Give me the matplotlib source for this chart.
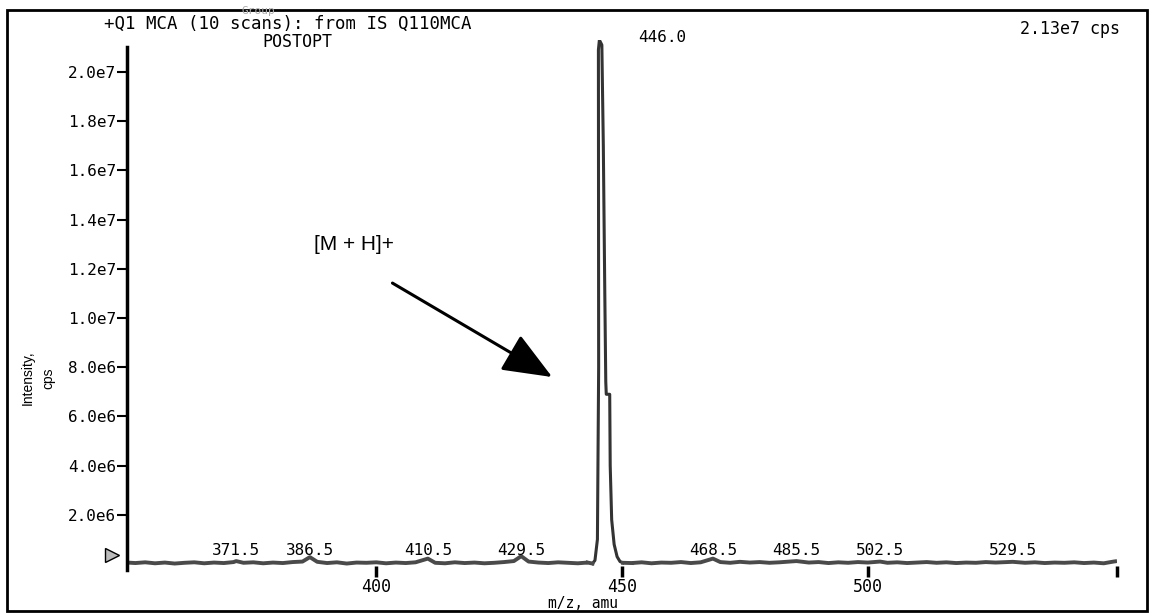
import matplotlib
matplotlib.use("Agg")
import matplotlib.pyplot as plt
from matplotlib.patches import Rectangle

# the instrument printout uses wide, evenly spaced glyphs -> monospace sans
plt.rcParams['font.family'] = ['DejaVu Sans Mono', 'DejaVu Sans']

# spectrum trace, m/z (amu) and intensity (1e6 cps)
mz_left = [349.3, 351, 353, 355, 357, 359, 361, 363, 365, 367, 369, 371, 371.5, 373, 375,
           377, 379, 381, 383, 385, 386.5, 388, 390, 392, 394, 396, 398, 400, 402,
           404, 406, 408, 410.5, 412, 414, 416, 418, 420, 422, 424, 426, 428,
           429.5, 431, 433, 435, 437, 439, 441, 443]
int_left = [0.06, 0.04, 0.07, 0.03, 0.06, 0.02, 0.05, 0.07, 0.03, 0.06, 0.04, 0.08, 0.12, 0.05, 0.07,
            0.03, 0.06, 0.04, 0.08, 0.10, 0.28, 0.09, 0.04, 0.07, 0.02, 0.06, 0.05, 0.07, 0.03,
            0.06, 0.04, 0.07, 0.22, 0.05, 0.03, 0.07, 0.04, 0.06, 0.03, 0.05, 0.08, 0.12,
            0.32, 0.10, 0.06, 0.04, 0.07, 0.05, 0.03, 0.06]
mz_peak = [444.0, 444.5, 445.0, 445.25, 445.2, 445.4, 445.9, 446.2, 446.5, 446.7,
           446.8, 447.5, 447.6, 447.9, 448.4, 449.0, 449.6, 450.2]
int_peak = [0.02, 0.15, 1.0, 8.0, 20.9, 21.3, 21.1, 17.0, 11.0, 7.4,
            6.9, 6.9, 4.0, 1.8, 0.8, 0.3, 0.1, 0.05]
mz_right = [452, 454, 456, 458, 460, 462, 464, 466, 468.5, 470, 472, 474, 476, 478, 480,
            482, 485.5, 488, 490, 492, 494, 496, 498, 500, 502.5, 504, 506, 508, 510,
            512, 514, 516, 518, 520, 522, 524, 526, 529.5, 532, 534, 536, 538, 540,
            542, 544, 546, 548, 550, 550.7]
int_right = [0.04, 0.07, 0.03, 0.06, 0.05, 0.08, 0.04, 0.07, 0.22, 0.08, 0.05, 0.09, 0.06, 0.08, 0.05,
             0.07, 0.12, 0.06, 0.08, 0.04, 0.07, 0.05, 0.08, 0.06, 0.10, 0.05, 0.07, 0.04, 0.06,
             0.08, 0.05, 0.07, 0.04, 0.06, 0.05, 0.08, 0.06, 0.09, 0.05, 0.07, 0.04, 0.06, 0.05,
             0.07, 0.04, 0.06, 0.03, 0.10, 0.12]

peak_labels = [371.5, 386.5, 410.5, 429.5, 468.5, 485.5, 502.5, 529.5]
base_peak = 446.0
max_cps = 2.13e7
y_ticks = [2e6, 4e6, 6e6, 8e6, 1e7, 1.2e7, 1.4e7, 1.6e7, 1.8e7, 2e7]
y_ticklabels = ["2.0e6", "4.0e6", "6.0e6", "8.0e6", "1.0e7",
                "1.2e7", "1.4e7", "1.6e7", "1.8e7", "2.0e7"]
x_ticks = [400, 450, 500]

fig = plt.figure(figsize=(11.5, 6.14), dpi=100)
W, H = 1150, 614
ax = fig.add_axes([127 / W, (H - 566) / H, 990 / W, 526 / H])

sc = 1e6
base_col = '#4a4a4a'
ax.plot(mz_left, [v * sc for v in int_left], color=base_col, lw=2.8, solid_capstyle='butt')
ax.plot(mz_right, [v * sc for v in int_right], color=base_col, lw=2.8, solid_capstyle='butt')
ax.plot(mz_peak, [v * sc for v in int_peak], color='#333333', lw=2.2)
ax.plot([mz_left[-1], mz_peak[0]], [int_left[-1] * sc, int_peak[0] * sc], color=base_col, lw=2.8)
ax.plot([mz_peak[-1], mz_right[0]], [int_peak[-1] * sc, int_right[0] * sc], color=base_col, lw=2.8)

ax.set_xlim(349.3, 550.7)
ax.set_ylim(-0.08e6, 2.13e7)

for s in ['top', 'right', 'bottom']:
    ax.spines[s].set_visible(False)
ax.spines['left'].set_linewidth(2.5)
ax.spines['left'].set_bounds(-0.25e6, 2.1e7)

ax.set_yticks(y_ticks)
ax.set_yticklabels(y_ticklabels)
ax.set_xticks(x_ticks + [550.7])
ax.set_xticklabels([str(t) for t in x_ticks] + [""])
ax.tick_params(axis='y', direction='out', length=7, width=1.5, labelsize=11.5, pad=1)
ax.tick_params(axis='x', direction='out', length=8, width=2.5, labelsize=12, pad=1)

# peak annotations
for p in peak_labels:
    ax.annotate(f"{p:.1f}", (p, 0), xytext=(0, 4), textcoords='offset points',
                ha='center', va='bottom', fontsize=11.5)
ax.annotate(f"{base_peak:.1f}", (base_peak, max_cps), xytext=(26, 2), textcoords='offset points',
            ha='left', va='center', fontsize=11.5)

# arrow pointing at the protonated molecule
ax.annotate("", xy=(435.8, 7.6e6), xytext=(403.3, 1.142e7),
            arrowprops=dict(arrowstyle='-|>,head_length=1.1,head_width=0.45', color='black',
                            lw=2.2, mutation_scale=28, shrinkA=0, shrinkB=0))
ax.text(395.5, 1.297e7, "[M + H]+", ha='center', va='center', fontsize=15,
        family='Liberation Sans')

# little start marker at the left of the baseline
ax.plot([349.3 - 3], [0.35e6], marker='>', ms=10, mfc='#bbbbbb', mec='black', mew=1,
        clip_on=False)

# header texts
fig.text(288 / W, 1 - 24 / H, "+Q1 MCA (10 scans): from IS Q110MCA", ha='center', va='center',
         fontsize=12.5)
fig.text(297 / W, 1 - 42 / H, "POSTOPT", ha='center', va='center', fontsize=12)
fig.text(258 / W, 1 - 11 / H, "Group", ha='center', va='center', fontsize=8, color='#aaaaaa')
fig.text(1120 / W, 1 - 29 / H, "%.2fe7 cps" % (max_cps / 1e7), ha='right', va='center',
         fontsize=12)
fig.text(583 / W, 1 - 603 / H, "m/z, amu", ha='center', va='center', fontsize=10.5)
fig.text(38 / W, 1 - 378 / H, "Intensity,\ncps", ha='center', va='center', rotation=90,
         fontsize=10, linespacing=1.6, family='Liberation Sans')

# outer frame
fig.patches.append(Rectangle((7 / W, 0.005), 1140 / W, 1 - 10 / H - 0.005, transform=fig.transFigure,
                             fill=False, ec='black', lw=2))

fig.savefig("out.png", dpi=100)
